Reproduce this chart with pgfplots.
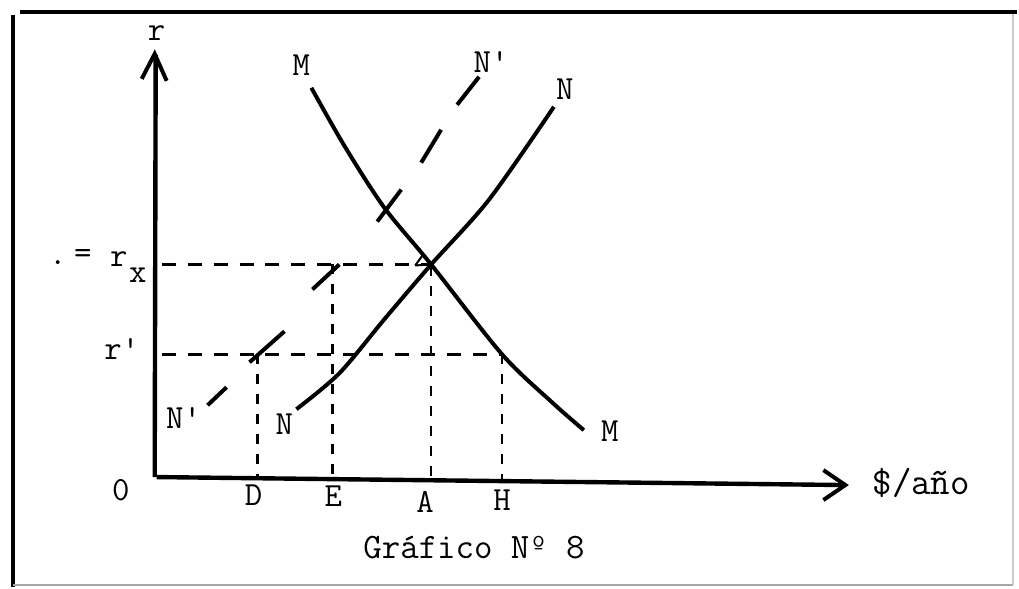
\documentclass[border=0pt]{standalone}
\usepackage{fontspec}
\usepackage{pgfplots}
\pgfplotsset{compat=1.18}
\tikzset{lab/.style={font=\ttfamily\fontsize{17}{17}\selectfont, inner sep=0pt}}
\begin{document}
\begin{tikzpicture}
\begin{axis}[
  scale only axis, width=509.5bp, height=294bp,
  xmin=0, xmax=1019, ymin=0, ymax=588, y dir=reverse,
  hide axis, clip=false,
]
% bounding box
\addplot[draw=none] coordinates {(0,0) (1019,588)};
% frame
\addplot[black, line width=2bp] coordinates {(20,12) (1019,12)};
\addplot[black, line width=2bp] coordinates {(13,15) (13,588)};
\addplot[black!35, line width=0.8bp] coordinates {(13,586) (1015,586)};
\addplot[black!20, line width=0.6bp] coordinates {(1015,14) (1015,586)};
% axes
\addplot[black, line width=2.2bp] coordinates {(155,478) (156,55)};
\addplot[black, line width=2bp] coordinates {(142,79) (155,54) (167,81)};
\addplot[black, line width=2.2bp] coordinates {(157,478) (500,482) (847,486)};
\addplot[black, line width=2bp] coordinates {(825,471) (847,486) (825,501)};
% dashed guides
\addplot[black, line width=1.3bp, dash pattern=on 7bp off 6bp] coordinates {(162,265) (432,265)};
\addplot[black, line width=1.3bp, dash pattern=on 7bp off 6bp] coordinates {(162,355) (503,355)};
\addplot[black, line width=1.3bp, dash pattern=on 5bp off 5bp] coordinates {(258,355) (258,478)};
\addplot[black, line width=1.3bp, dash pattern=on 5bp off 5bp] coordinates {(333,265) (333,478)};
\addplot[black, line width=1.3bp, dash pattern=on 5bp off 5bp] coordinates {(432,267) (432,478)};
\addplot[black, line width=1.3bp, dash pattern=on 5bp off 5bp] coordinates {(503,355) (503,480)};
% M curve
\addplot[black, line width=2bp, smooth, tension=0.5] coordinates {(312,88) (345,146) (385,208) (432,265) (503,355) (553,403) (585,431)};
% N curve
\addplot[black, line width=2bp, smooth, tension=0.5] coordinates {(297,410) (340,374) (385,320) (432,265) (490,200) (555,107)};
% N' dashes
\addplot[black, line width=2bp] coordinates {(208,406) (227,388)};
\addplot[black, line width=2bp] coordinates {(250,363) (285,332)};
\addplot[black, line width=2bp] coordinates {(313,290) (340,265)};
\addplot[black, line width=2bp] coordinates {(378,222) (402,190)};
\addplot[black, line width=2bp] coordinates {(422,163) (442,130)};
\addplot[black, line width=2bp] coordinates {(458,105) (480,77)};
% small triangle mark at intersection
\addplot[black, line width=1bp] coordinates {(416,266) (424,255) (431,265) (416,266)};
% labels
\node[lab] at (157,33) {r};
\node[lab] at (302,65) {M};
\node[lab] at (492,62) {N'};
\node[lab] at (566,89) {N};
\node[lab] at (58,263) {.};
\node[lab] at (83,257) {=};
\node[lab, anchor=base] at (119,267) {r};
\node[lab, anchor=base] at (138,283) {x};
\node[lab, anchor=base] at (122,360) {r'};
\node[lab] at (184,419) {N'};
\node[lab] at (285,425) {N};
\node[lab] at (611,432) {M};
\node[lab] at (121,491) {0};
\node[lab] at (254,496) {D};
\node[lab] at (334,497) {E};
\node[lab] at (426,503) {A};
\node[lab] at (503,501) {H};
\node[lab, font=\ttfamily\fontsize{19}{19}\selectfont] at (923,484) {\$/año};
\node[lab, font=\ttfamily\fontsize{18}{18}\selectfont] at (475,549) {Gráfico Nº 8};
\end{axis}
\end{tikzpicture}
\end{document}
